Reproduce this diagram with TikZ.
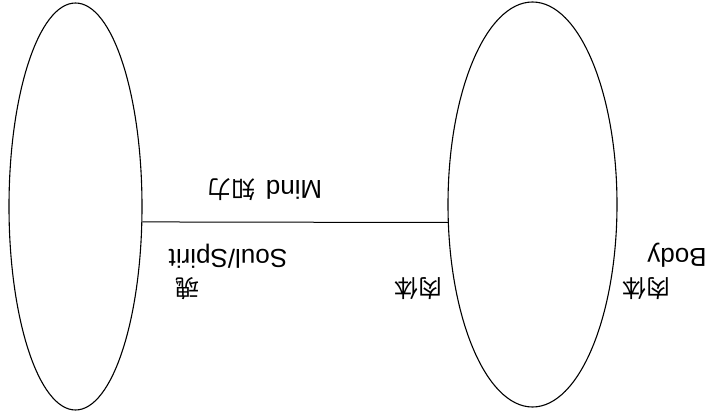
\documentclass[tikz,border=0pt]{standalone}
\usepackage{fontspec}
\setmainfont{Liberation Sans}
\newfontfamily\cjk{Noto Sans CJK JP}
\usetikzlibrary{shapes.geometric}
\begin{document}
\begin{tikzpicture}[x=1pt,y=1pt,
	oval/.style={draw,ellipse,inner sep=0pt,line width=1.1pt},
	lbl/.style={rotate=180,inner sep=0pt,font=\fontsize{26}{30}\selectfont}]
			\useasboundingbox (0,0) rectangle (709,418);
			\node[oval,minimum width=133,minimum height=407] (soul) at (75.5,211.5) {};
			\node[oval,minimum width=169,minimum height=405] (body) at (532.5,213.5) {};
			\draw[line width=1pt] (soul.-13)--(body.192);
			\node[lbl] (mind) at (265,228) {Mind\hspace{10pt}{\cjk\fontsize{24}{28}\selectfont 知力}};
			\node[lbl] (spirit) at (228,162) {Soul/Spirit};
			\node[lbl] (bodyen) at (677,163) {Body};
			\foreach \n/\x/\t in {tama/187/魂, nikuA/418/肉体, nikuB/646/肉体}
				\node[lbl,font=\cjk\fontsize{24}{28}\selectfont] (\n) at (\x,129) {\t};
	\end{tikzpicture}
\end{document}
